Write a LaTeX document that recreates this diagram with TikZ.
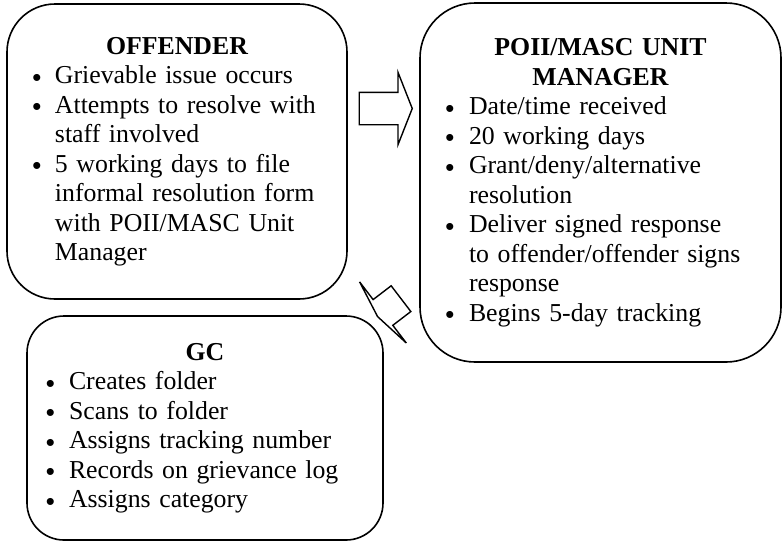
\documentclass[tikz,border=0pt]{standalone}
\usepackage{fontspec}
\setmainfont{Liberation Serif}
\newfontfamily\puce{Liberation Sans}
\usepackage{enumitem}
\usepackage{tikz}
\usetikzlibrary{shapes.arrows}
\setlist[itemize]{label=\raisebox{-2.5pt}{\puce\textbullet},nosep}
\tikzset{bloc/.style={draw,line width=1.6pt,align=left,inner sep=5pt,font=\fontsize{25.8pt}{29.5pt}\selectfont},fleche/.style={draw,line width=1.4pt,single arrow,inner sep=0pt,text height=31pt,text depth=0pt,anchor=tip}}

\begin{document}
\begin{tikzpicture}[x=1pt,y=-1pt]
\useasboundingbox (0,0) rectangle (783,542);
\node[bloc,rounded corners=48pt,minimum width=340pt,minimum height=295pt,text width=330pt] (offender) at (177,151.5) {{\centering\bfseries OFFENDER\par}
\begin{itemize}[leftmargin=43pt,labelsep=13.5pt,rightmargin=8pt]
\item Grievable issue occurs
\item Attempts to resolve with staff involved
\item 5 working days to file informal resolution form with POII/MASC Unit Manager
\end{itemize}};
\node[bloc,rounded corners=55pt,minimum width=361pt,minimum height=359pt,text width=351pt] (manager) at (600.5,182.5) {{\centering\bfseries POII/MASC UNIT\\ MANAGER\par}
\begin{itemize}[leftmargin=44pt,labelsep=14.5pt,rightmargin=25pt]
\item Date/time received
\item 20 working days
\item Grant/deny/alternative resolution
\item Deliver signed response\newline to offender/offender signs\newline response
\item Begins 5-day tracking
\end{itemize}};
\node[bloc,rounded corners=37pt,minimum width=356pt,minimum height=224pt,text width=346pt] (gc) at (205,428) {{\centering\bfseries GC\par}
\begin{itemize}[leftmargin=37pt,labelsep=14pt]
\item Creates folder
\item Scans to folder
\item Assigns tracking number
\item Records on grievance log
\item Assigns category
\end{itemize}};
\node[fleche,minimum height=53pt,single arrow head extend=20pt,single arrow tip angle=137] (vers manager) at (413,108.5) {};
\node[fleche,minimum height=29.5pt,single arrow head extend=22.3pt,single arrow tip angle=160,rotate=217.4] (vers gc) at (377,317) {};
\end{tikzpicture}
\end{document}
